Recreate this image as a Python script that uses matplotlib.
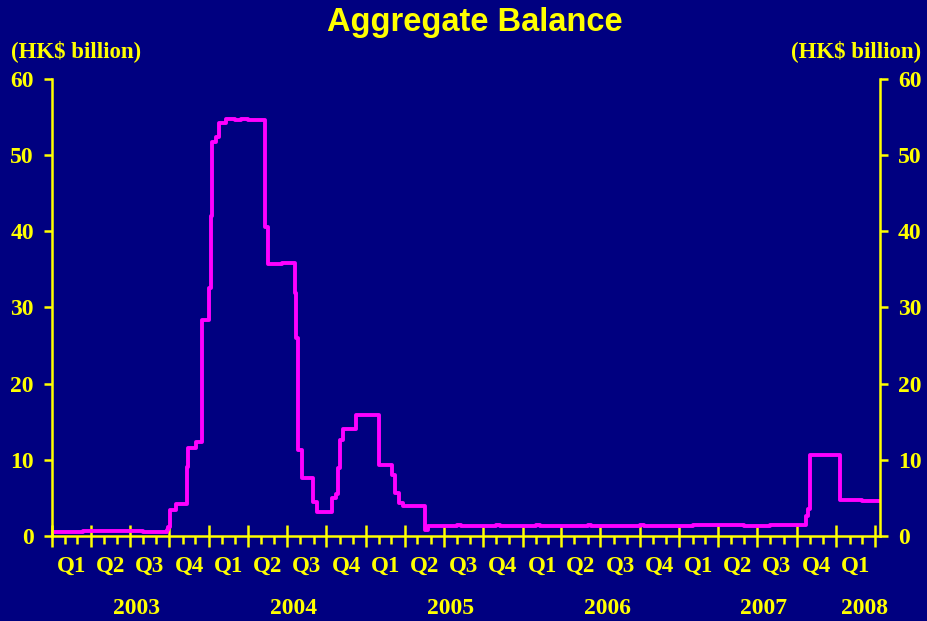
import matplotlib
matplotlib.use("Agg")
import matplotlib.pyplot as plt
import matplotlib.dates as mdates
import pandas as pd

# aggregate balance, step changes (HK$ billion)
balanceDates = [
    "2003-01-01", "2003-03-15", "2003-06-01", "2003-08-01", "2003-09-25",
    "2003-09-29", "2003-10-02", "2003-10-17", "2003-11-11", "2003-11-13",
    "2003-12-03", "2003-12-16", "2004-01-01", "2004-01-07", "2004-01-09",
    "2004-01-19", "2004-01-26", "2004-02-11", "2004-03-01", "2004-03-15",
    "2004-04-01", "2004-05-12", "2004-05-17", "2004-06-20", "2004-07-19",
    "2004-07-23", "2004-07-26", "2004-08-06", "2004-08-30", "2004-09-08",
    "2004-10-13", "2004-10-24", "2004-10-28", "2004-11-01", "2004-11-09",
    "2004-12-10", "2005-02-01", "2005-03-02", "2005-03-10", "2005-03-18",
    "2005-03-29", "2005-05-19", "2005-05-26", "2005-08-01", "2005-08-10",
    "2005-11-01", "2005-11-10", "2006-02-01", "2006-02-10", "2006-06-01",
    "2006-06-10", "2006-10-01", "2006-10-10", "2007-02-01", "2007-06-01",
    "2007-08-01", "2007-10-22", "2007-10-27", "2007-11-01", "2008-01-09",
    "2008-03-01", "2008-04-12",
]
balanceValues = [
    0.5, 0.6, 0.6, 0.55, 0.8,
    1.2, 3.4, 4.2, 9.0, 11.5,
    12.4, 28.3, 32.5, 42.0, 51.7,
    52.4, 54.2, 54.8, 54.6, 54.8,
    54.6, 40.6, 35.7, 35.8, 31.9,
    26.0, 11.3, 7.6, 4.5, 3.2,
    5.0, 5.5, 8.9, 12.6, 14.1,
    15.9, 9.3, 8.0, 5.6, 4.3,
    3.9, 0.8, 1.3, 1.5, 1.35,
    1.5, 1.35, 1.5, 1.35, 1.45,
    1.35, 1.5, 1.35, 1.4, 1.35,
    1.4, 2.6, 3.5, 10.6, 4.7,
    4.6, 4.6,
]

quarterLabels = ["Q1", "Q2", "Q3", "Q4"]
years = [2003, 2004, 2005, 2006, 2007, 2008]
yTicks = [0, 10, 20, 30, 40, 50, 60]

BG = "#000080"
YELLOW = "#ffff00"
MAGENTA = "#ff00ff"
SERIF = ["Liberation Serif", "DejaVu Serif"]

fig = plt.figure(figsize=(9.27, 6.21), dpi=100, facecolor=BG)
ax = fig.add_axes([0.0561, 0.1369, 0.8932, 0.7359], facecolor=BG)

x = pd.to_datetime(balanceDates)
ax.plot(x, balanceValues, drawstyle="steps-post", color=MAGENTA, lw=2.8)

xStart = pd.Timestamp("2003-01-01")
xEnd = pd.Timestamp("2008-04-12")
ax.set_xlim(xStart, xEnd)
ax.set_ylim(0, 60)

# spines
for side in ["left", "right", "bottom"]:
    ax.spines[side].set_color(YELLOW)
    ax.spines[side].set_linewidth(1.8)
ax.spines["top"].set_visible(False)

# y axis on both sides
ax.set_yticks(yTicks)
ax.tick_params(axis="y", which="both", left=True, right=True,
               labelleft=True, labelright=True, colors=YELLOW,
               length=6, width=1.8, pad=7, labelsize=17)
for lab in ax.get_yticklabels():
    lab.set_family(SERIF)
    lab.set_fontweight("bold")

# x axis: quarters (major) and months (minor)
ax.xaxis.set_major_locator(mdates.MonthLocator(bymonth=[1, 4, 7, 10]))
ax.xaxis.set_minor_locator(mdates.MonthLocator())
ax.xaxis.set_major_formatter(plt.NullFormatter())
ax.tick_params(axis="x", which="major", direction="inout", length=16,
               width=1.8, colors=YELLOW)
ax.tick_params(axis="x", which="minor", direction="out", length=6,
               width=1.8, colors=YELLOW)

trans = ax.get_xaxis_transform()
for yr in years:
    for qi, q in enumerate(quarterLabels):
        qs = pd.Timestamp(year=yr, month=3 * qi + 1, day=1)
        qe = qs + pd.DateOffset(months=3)
        mid = qs + (qe - qs) / 2
        if mid >= xEnd:
            continue
        ax.text(mid, -0.066, q, transform=trans, ha="center", va="center",
                color=YELLOW, fontsize=16.5, fontweight="bold", family=SERIF)
    ys = max(pd.Timestamp(year=yr, month=1, day=1), xStart)
    ye = min(pd.Timestamp(year=yr + 1, month=1, day=1), xEnd)
    # year labels sit a little right of the year's centre
    mid = ys + (ye - ys) / 2 + pd.Timedelta(days=14)
    ax.text(mid, -0.159, str(yr), transform=trans, ha="center", va="center",
            color=YELLOW, fontsize=17, fontweight="bold", family=SERIF)

fig.text(0.512, 0.963, "Aggregate Balance", ha="center", va="center",
         color=YELLOW, fontsize=23.5, fontweight="bold",
         family=["Liberation Sans", "DejaVu Sans"])
fig.text(0.012, 0.918, "(HK$ billion)", ha="left", va="center",
         color=YELLOW, fontsize=16.5, fontweight="bold", family=SERIF)
fig.text(0.994, 0.918, "(HK$ billion)", ha="right", va="center",
         color=YELLOW, fontsize=16.5, fontweight="bold", family=SERIF)

fig.savefig("out.png", dpi=100, facecolor=BG)
